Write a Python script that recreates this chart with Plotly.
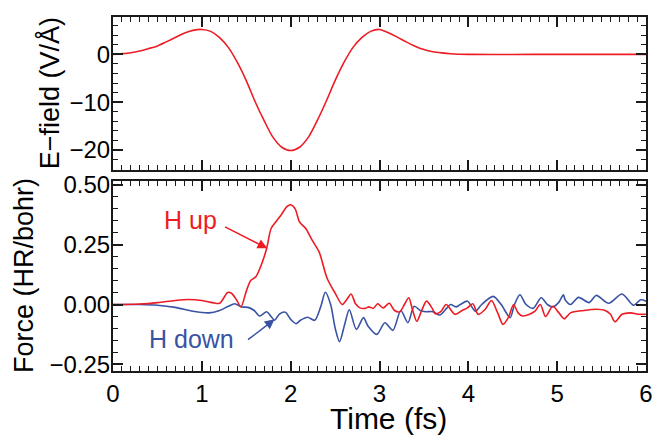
import plotly.graph_objects as go

# E-field (top panel)
t_field = [0.0, 0.1, 0.2, 0.3, 0.4, 0.5, 0.6, 0.7, 0.8, 0.9, 1.0, 1.1, 1.2, 1.3, 1.4,
           1.5, 1.6, 1.7, 1.8, 1.9, 2.0, 2.1, 2.2, 2.3, 2.4, 2.5, 2.6, 2.7, 2.8, 2.9,
           3.0, 3.1, 3.2, 3.3, 3.4, 3.5, 3.6, 3.7, 3.8, 3.9, 4.0, 4.5, 5.0, 5.5, 6.0]
e_field = [0.0, 0.15, 0.35, 0.7, 1.2, 1.75, 2.6, 3.5, 4.4, 5.0, 5.2, 4.8, 3.5, 1.4, -1.7,
           -5.5, -9.9, -13.8, -17.3, -19.4, -20.1, -19.4, -17.3, -13.8, -9.8, -5.5, -1.7, 1.4, 3.5, 4.8,
           5.2, 4.5, 3.6, 2.6, 1.7, 1.0, 0.55, 0.3, 0.12, 0.03, 0.0, -0.03, 0.0, 0.0, 0.0]

# Force on H up (red)
t_up = [0.0, 0.3, 0.5, 0.7, 0.85, 1.0, 1.12, 1.2, 1.29, 1.33, 1.39, 1.44, 1.50, 1.55, 1.61,
        1.67, 1.73, 1.78, 1.84, 1.89, 1.96, 2.00, 2.05, 2.10, 2.17, 2.24, 2.32, 2.41, 2.50, 2.58,
        2.63, 2.68, 2.73, 2.78, 2.84, 2.88, 2.93, 2.98, 3.04, 3.11, 3.17, 3.23, 3.28, 3.33, 3.37,
        3.42, 3.48, 3.53, 3.59, 3.63, 3.69, 3.75, 3.85, 3.93, 3.99, 4.05, 4.11, 4.19, 4.26, 4.33,
        4.39, 4.45, 4.51, 4.56, 4.61, 4.69, 4.75, 4.81, 4.87, 4.95, 5.02, 5.08, 5.15, 5.30, 5.44,
        5.54, 5.60, 5.65, 5.73, 5.82, 5.93, 6.0]
f_up = [0.0, 0.002, 0.008, 0.017, 0.021, 0.017, 0.008, 0.005, 0.05, 0.048, 0.02, -0.01, 0.055, 0.10, 0.117,
        0.166, 0.235, 0.318, 0.349, 0.373, 0.41, 0.417, 0.40, 0.345, 0.318, 0.27, 0.22, 0.11, 0.048, 0.0,
        0.02, 0.044, 0.003, -0.014, -0.016, -0.01, -0.016, 0.003, -0.014, 0.005, -0.025, -0.03, 0.0, 0.028, -0.02,
        -0.07, -0.02, 0.014, -0.014, -0.039, -0.03, 0.0, -0.041, -0.025, -0.014, 0.003, -0.041, -0.02, 0.017, -0.035,
        -0.083, -0.055, 0.0, -0.035, -0.048, -0.041, -0.028, 0.0, -0.05, -0.007, -0.035, -0.06, -0.035, -0.025, -0.02,
        -0.025, -0.041, -0.072, -0.041, -0.035, -0.041, -0.041]

# Force on H down (blue)
t_down = [0.0, 0.3, 0.5, 0.7, 0.9, 1.08, 1.2, 1.3, 1.37, 1.45, 1.52, 1.59, 1.65, 1.73, 1.78,
          1.82, 1.87, 1.94, 2.00, 2.06, 2.11, 2.19, 2.27, 2.34, 2.39, 2.45, 2.50, 2.55, 2.61, 2.66,
          2.74, 2.82, 2.87, 2.97, 3.06, 3.15, 3.24, 3.32, 3.39, 3.46, 3.52, 3.60, 3.68, 3.76, 3.80,
          3.86, 3.91, 3.99, 4.08, 4.15, 4.28, 4.37, 4.47, 4.52, 4.58, 4.65, 4.73, 4.82, 4.89, 4.95,
          5.02, 5.07, 5.09, 5.15, 5.24, 5.36, 5.44, 5.58, 5.73, 5.86, 5.94, 6.0]
f_down = [0.0, 0.0, -0.003, -0.012, -0.028, -0.035, -0.025, -0.007, 0.003, -0.01, -0.012, -0.025, -0.048, -0.03, -0.05,
          -0.066, -0.041, -0.032, -0.062, -0.08, -0.066, -0.053, -0.066, -0.007, 0.051, 0.0, -0.097, -0.155, -0.08, -0.022,
          -0.104, -0.055, -0.09, -0.125, -0.076, -0.108, -0.025, -0.076, -0.007, -0.025, -0.03, -0.03, -0.044, -0.014, 0.0,
          -0.01, 0.0, 0.014, -0.028, 0.0, 0.034, 0.0, -0.055, 0.0, 0.041, 0.0, -0.016, 0.028, 0.0, -0.01,
          0.01, 0.041, 0.02, 0.0, 0.03, 0.008, 0.038, 0.005, 0.044, -0.003, 0.02, 0.014]

x_ticks = [0, 1, 2, 3, 4, 5, 6]
e_ticks = [-20, -10, 0]
f_ticks = [-0.25, 0.0, 0.25, 0.5]

RED = "#ed1c24"
BLUE = "#3953a4"
FONT = "Liberation Sans, Arial, sans-serif"

fig = go.Figure()
fig.add_trace(go.Scatter(x=t_field, y=e_field, mode="lines", line=dict(color=RED, width=1.6, shape="spline", smoothing=0.8),
                         xaxis="x", yaxis="y", showlegend=False))
fig.add_trace(go.Scatter(x=t_down, y=f_down, mode="lines", line=dict(color=BLUE, width=1.6, shape="spline", smoothing=0.8),
                         xaxis="x2", yaxis="y2", showlegend=False))
fig.add_trace(go.Scatter(x=t_up, y=f_up, mode="lines", line=dict(color=RED, width=1.6, shape="spline", smoothing=0.8),
                         xaxis="x2", yaxis="y2", showlegend=False))

common = dict(showline=True, linewidth=2, linecolor="#1a1a1a", mirror="allticks", ticks="inside",
              ticklen=10, tickwidth=1.5, tickcolor="#1a1a1a", showgrid=False, zeroline=False,
              tickfont=dict(family=FONT, size=24, color="black"))
minor_x = dict(dtick=0.1, ticklen=5, tickwidth=1.2, ticks="inside", tickcolor="#1a1a1a")

fig.update_layout(
    width=660, height=437,
    margin=dict(l=113, r=7, t=14, b=66),
    plot_bgcolor="white", paper_bgcolor="white",
    font=dict(family=FONT, color="black"),
    xaxis=dict(domain=[0, 1], anchor="y", range=[0, 6], tickvals=x_ticks, showticklabels=False,
               minor=minor_x, **common),
    yaxis=dict(domain=[0.5686, 1], anchor="x", range=[-24.1, 7.8], tickvals=e_ticks, ticklabelstandoff=-4,
               minor=dict(dtick=2, ticklen=5, tickwidth=1.2, ticks="inside", tickcolor="#1a1a1a"), **common),
    xaxis2=dict(domain=[0, 1], anchor="y2", range=[0, 6], tickvals=x_ticks,
                minor=minor_x, **common),
    yaxis2=dict(domain=[0, 0.5364], anchor="x2", range=[-0.278, 0.516], tickvals=f_ticks, tickformat=".2f",
                ticklabelstandoff=-4,
                minor=dict(dtick=0.05, ticklen=5, tickwidth=1.2, ticks="inside", tickcolor="#1a1a1a"), **common),
)

anns = [
    dict(text="E\u2212field (V/Å)", xref="paper", yref="paper", x=0, y=(0.5686 + 1) / 2, xshift=-64,
         textangle=-90, showarrow=False, font=dict(family=FONT, size=27, color="black"), xanchor="center", yanchor="middle"),
    dict(text="Force (HR/bohr)", xref="paper", yref="paper", x=0, y=0.5364 / 2, xshift=-89,
         textangle=-90, showarrow=False, font=dict(family=FONT, size=27, color="black"), xanchor="center", yanchor="middle"),
    dict(text="Time (fs)", xref="paper", yref="paper", x=0.5, y=0, xshift=9, yshift=-47,
         showarrow=False, font=dict(family=FONT, size=30, color="black"), xanchor="center", yanchor="middle"),
    dict(text="H up", xref="x2", yref="y2", x=0.867, y=0.352, showarrow=False,
         font=dict(family=FONT, size=25, color=RED), xanchor="center", yanchor="middle"),
    dict(text="H down", xref="x2", yref="y2", x=0.889, y=-0.145, showarrow=False,
         font=dict(family=FONT, size=25, color=BLUE), xanchor="center", yanchor="middle"),
    dict(text="", xref="x2", yref="y2", axref="x2", ayref="y2", x=1.737, y=0.235, ax=1.244, ay=0.328,
         showarrow=True, arrowhead=2, arrowsize=1.3, arrowwidth=1.5, arrowcolor=RED),
    dict(text="", xref="x2", yref="y2", axref="x2", ayref="y2", x=1.819, y=-0.062, ax=1.503, ay=-0.152,
         showarrow=True, arrowhead=2, arrowsize=1.3, arrowwidth=1.5, arrowcolor=BLUE),
]
fig.update_layout(annotations=anns)

fig.write_html("out.html", config={"displayModeBar": False},
               post_script="document.body.style.margin='0';document.body.style.overflow='hidden';")
